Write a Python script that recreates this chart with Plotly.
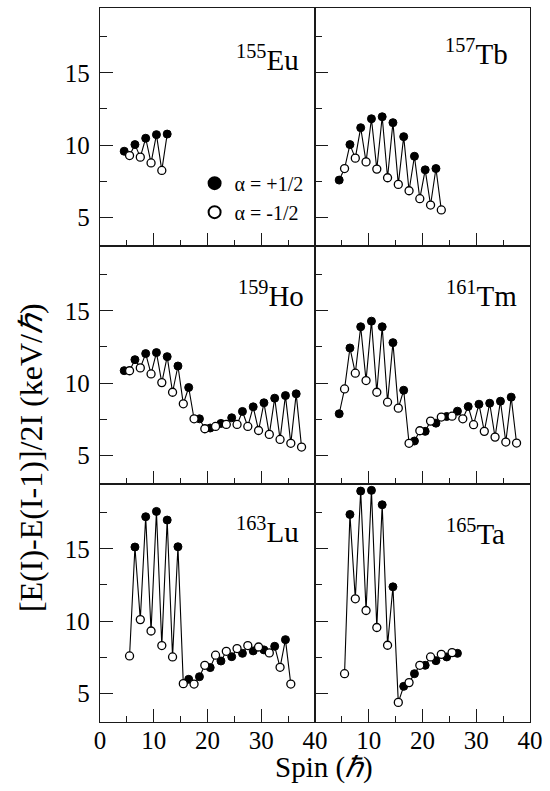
import plotly.graph_objects as go
from plotly.subplots import make_subplots

FONT = "Liberation Serif"

# ---------------- data ----------------
EU_SPIN = [4.5, 5.5, 6.5, 7.5, 8.5, 9.5, 10.5, 11.5, 12.5]
EU_VAL = [9.57, 9.27, 10.03, 9.16, 10.47, 8.76, 10.72, 8.24, 10.76]

TB_SPIN = [4.5, 5.5, 6.5, 7.5, 8.5, 9.5, 10.5, 11.5, 12.5, 13.5,
           14.5, 15.5, 16.5, 17.5, 18.5, 19.5, 20.5, 21.5, 22.5, 23.5]
TB_VAL = [7.57, 8.37, 10.03, 9.09, 11.2, 8.83, 11.82, 8.33, 11.96, 7.73,
          11.55, 7.27, 10.58, 6.83, 9.22, 6.28, 8.28, 5.84, 8.37, 5.5]

HO_SPIN = [4.5, 5.5, 6.5, 7.5, 8.5, 9.5, 10.5, 11.5, 12.5, 13.5,
           14.5, 15.5, 16.5, 17.5, 18.5, 19.5, 20.5, 21.5, 22.5, 23.5,
           24.5, 25.5, 26.5, 27.5, 28.5, 29.5, 30.5, 31.5, 32.5, 33.5,
           34.5, 35.5, 36.5, 37.5]
HO_VAL = [10.86, 10.85, 11.62, 11.05, 12.04, 10.63, 12.11, 10.03, 11.83, 9.36,
          11.18, 8.56, 9.69, 7.52, 7.52, 6.83, 6.88, 6.99, 7.2, 7.13,
          7.59, 7.13, 8.03, 6.99, 8.35, 6.71, 8.63, 6.44, 8.95, 6.09,
          9.13, 5.82, 9.25, 5.56]

TM_SPIN = [4.5, 5.5, 6.5, 7.5, 8.5, 9.5, 10.5, 11.5, 12.5, 13.5,
           14.5, 15.5, 16.5, 17.5, 18.5, 19.5, 20.5, 21.5, 22.5, 23.5,
           24.5, 25.5, 26.5, 27.5, 28.5, 29.5, 30.5, 31.5, 32.5, 33.5,
           34.5, 35.5, 36.5, 37.5]
TM_VAL = [7.87, 9.59, 12.43, 10.68, 13.9, 10.17, 14.29, 9.36, 13.9, 8.67,
          12.8, 8.26, 9.5, 5.82, 5.98, 6.69, 6.65, 7.36, 7.22, 7.64,
          7.68, 7.70, 8.05, 7.52, 8.37, 7.11, 8.53, 6.65, 8.6, 6.25,
          8.74, 5.91, 9.02, 5.84]

LU_SPIN = [5.5, 6.5, 7.5, 8.5, 9.5, 10.5, 11.5, 12.5, 13.5, 14.5,
           15.5, 16.5, 17.5, 18.5, 19.5, 20.5, 21.5, 22.5, 23.5, 24.5,
           25.5, 26.5, 27.5, 28.5, 29.5, 30.5, 31.5, 32.5, 33.5, 34.5,
           35.5]
LU_VAL = [7.58, 15.13, 10.1, 17.23, 9.31, 17.6, 8.3, 17.0, 7.51, 15.15,
          5.66, 5.96, 5.63, 6.14, 6.93, 6.77, 7.63, 7.23, 7.9, 7.53,
          8.09, 7.76, 8.3, 7.93, 8.2, 8.0, 7.79, 8.25, 6.79, 8.71,
          5.63]

TA_SPIN = [5.5, 6.5, 7.5, 8.5, 9.5, 10.5, 11.5, 12.5, 13.5, 14.5,
           15.5, 16.5, 17.5, 18.5, 19.5, 20.5, 21.5, 22.5, 23.5, 24.5,
           25.5, 26.5]
TA_VAL = [6.35, 17.39, 11.54, 19.01, 10.73, 19.06, 9.55, 18.06, 8.32, 12.37,
          4.36, 5.47, 5.73, 6.35, 6.93, 6.93, 7.51, 7.25, 7.69, 7.51,
          7.81, 7.76]

NUCLEUS_LABELS = ["<sup>155</sup>Eu", "<sup>157</sup>Tb", "<sup>159</sup>Ho",
                  "<sup>161</sup>Tm", "<sup>163</sup>Lu", "<sup>165</sup>Ta"]

X_TICKS = [0, 10, 20, 30, 40]
X_MINOR = [5, 15, 25, 35]
Y_TICKS = [5, 10, 15]
Y_MINOR = [7.5, 12.5, 17.5]
X_RANGE = [0, 40]
Y_RANGE = [3, 19.5]

LEGEND_PLUS = "α = +1/2"
LEGEND_MINUS = "α = -1/2"

# ---------------- layout helpers ----------------
# (row, col, spins, values, label, label x in panel domain, label y in panel domain)
PANELS = [
    (1, 1, EU_SPIN, EU_VAL, NUCLEUS_LABELS[0], 0.934, 0.707),
    (1, 2, TB_SPIN, TB_VAL, NUCLEUS_LABELS[1], 0.905, 0.732),
    (2, 1, HO_SPIN, HO_VAL, NUCLEUS_LABELS[2], 0.958, 0.714),
    (2, 2, TM_SPIN, TM_VAL, NUCLEUS_LABELS[3], 0.950, 0.716),
    (3, 1, LU_SPIN, LU_VAL, NUCLEUS_LABELS[4], 0.936, 0.723),
    (3, 2, TA_SPIN, TA_VAL, NUCLEUS_LABELS[5], 0.892, 0.716),
]

fig = make_subplots(rows=3, cols=2, horizontal_spacing=0, vertical_spacing=0)

AX_COLOR = "#1a1a1a"

for i, (r, c, spins, vals, label, lx, ly) in enumerate(PANELS):
    plus_x = [s for s in spins if (s - 0.5) % 2 == 0]
    plus_y = [v for s, v in zip(spins, vals) if (s - 0.5) % 2 == 0]
    minus_x = [s for s in spins if (s - 0.5) % 2 != 0]
    minus_y = [v for s, v in zip(spins, vals) if (s - 0.5) % 2 != 0]

    fig.add_trace(go.Scatter(x=spins, y=vals, mode="lines",
                             line=dict(color="black", width=1.1),
                             showlegend=False, hoverinfo="skip"), row=r, col=c)
    fig.add_trace(go.Scatter(x=plus_x, y=plus_y, mode="markers", name=LEGEND_PLUS,
                             marker=dict(symbol="circle", size=8, color="black",
                                         line=dict(color="black", width=1)),
                             showlegend=(i == 0), legendgroup="plus"), row=r, col=c)
    fig.add_trace(go.Scatter(x=minus_x, y=minus_y, mode="markers", name=LEGEND_MINUS,
                             marker=dict(symbol="circle", size=8, color="white",
                                         line=dict(color="black", width=1.3)),
                             showlegend=(i == 0), legendgroup="minus"), row=r, col=c)

    fig.update_xaxes(row=r, col=c, range=X_RANGE, showgrid=False, zeroline=False,
                     showline=True, mirror=True, linecolor=AX_COLOR, linewidth=1.4,
                     ticks="inside", ticklen=13, tickwidth=1.2, tickcolor=AX_COLOR,
                     tickvals=X_TICKS,
                     ticktext=[str(t) if (c == 1 or t != 0) else " " for t in X_TICKS],
                     showticklabels=(r == 3), ticklabelstandoff=-4,
                     tickfont=dict(family=FONT, size=25, color="black"),
                     minor=dict(tickvals=X_MINOR, ticks="inside", ticklen=6,
                                tickwidth=1.2, tickcolor=AX_COLOR))
    fig.update_yaxes(row=r, col=c, range=Y_RANGE, showgrid=False, zeroline=False,
                     showline=True, mirror=True, linecolor=AX_COLOR, linewidth=1.4,
                     ticks="inside", ticklen=13, tickwidth=1.2, tickcolor=AX_COLOR,
                     tickvals=Y_TICKS, showticklabels=(c == 1), ticklabelstandoff=4,
                     tickfont=dict(family=FONT, size=25, color="black"),
                     minor=dict(tickvals=Y_MINOR, ticks="inside", ticklen=7,
                                tickwidth=1.2, tickcolor=AX_COLOR))

    xref = "x domain" if i == 0 else f"x{i + 1} domain"
    yref = "y domain" if i == 0 else f"y{i + 1} domain"
    fig.add_annotation(text=label, xref=xref, yref=yref, x=lx, y=ly,
                       xanchor="right", yanchor="bottom", showarrow=False,
                       font=dict(family=FONT, size=29, color="black"))

# axis titles
fig.add_annotation(text="Spin (<i>ℏ</i>)", xref="paper", yref="paper",
                   x=0.522, y=-0.064, xanchor="center", yanchor="middle",
                   showarrow=False, font=dict(family=FONT, size=29, color="black"))
fig.add_annotation(text="[E(I)-E(I-1)]/2I (keV/<i>ℏ</i>)", xref="paper", yref="paper",
                   x=-0.1605, y=0.371, xanchor="center", yanchor="middle", textangle=-90,
                   showarrow=False, font=dict(family=FONT, size=32, color="black"))

fig.update_layout(
    width=550, height=791,
    margin=dict(l=100, r=14, t=7, b=69),
    paper_bgcolor="white", plot_bgcolor="white",
    font=dict(family=FONT, color="black"),
    legend=dict(x=0.22, y=0.782, xanchor="left", yanchor="top",
                font=dict(family=FONT, size=20, color="black"),
                bgcolor="rgba(0,0,0,0)", borderwidth=0, itemsizing="constant",
                tracegroupgap=0, traceorder="grouped"),
)

# remove the default 8 px page margin so the 550x791 figure fills the window exactly
fig.write_html("out.html",
               config={"displayModeBar": False},
               post_script="document.body.style.margin='0';"
                           "document.body.style.overflow='hidden';")
